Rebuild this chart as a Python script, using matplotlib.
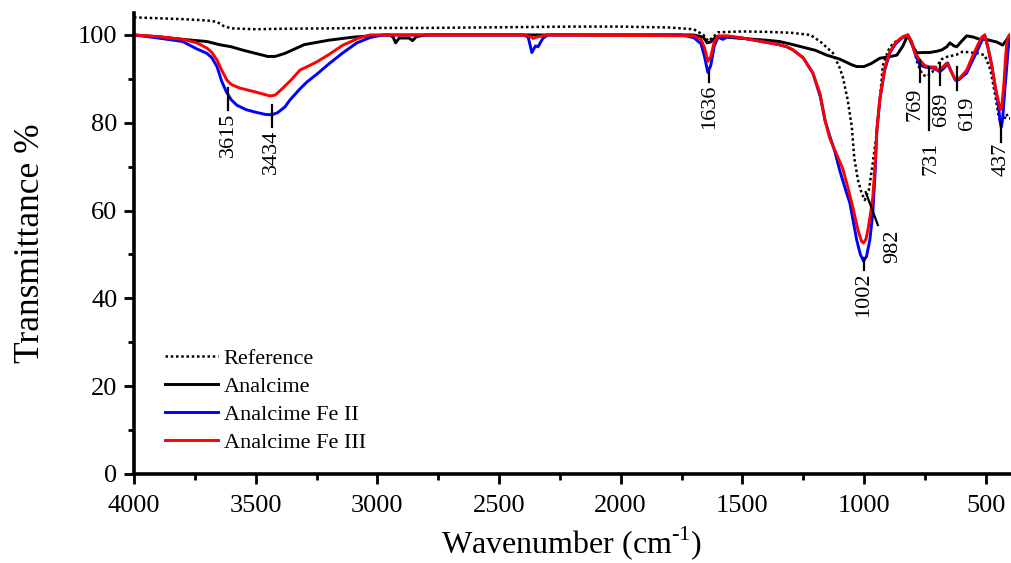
#!/usr/bin/env python
"""FTIR transmittance spectra of analcime and Fe-exchanged analcime."""

from __future__ import annotations

import matplotlib

matplotlib.use("Agg")
import matplotlib.pyplot as plt
from matplotlib.ticker import MultipleLocator

plt.rcParams["font.family"] = ["Liberation Serif", "DejaVu Serif"]
plt.rcParams["mathtext.fontset"] = "custom"
plt.rcParams["mathtext.rm"] = "Liberation Serif"

# Reference (dotted)
REF_WN = [4000, 3900, 3800, 3700, 3660, 3630, 3600, 3500, 3400, 3200, 3000, 2800,
          2600, 2400, 2200, 2000, 1800, 1700, 1660, 1640, 1620, 1600, 1500, 1400,
          1300, 1220, 1180, 1160, 1128, 1100, 1087, 1067, 1050, 1040, 1025, 1010,
          997, 980, 964, 947, 935, 923, 900, 882, 850, 820, 800, 780, 760, 742,
          720, 700, 680, 660, 620, 594, 560, 530, 504, 480, 460, 445, 437, 425,
          415, 405, 400]
REF_T = [104.0, 103.8, 103.6, 103.3, 103.0, 102.0, 101.5, 101.3, 101.4, 101.5, 101.6, 101.6,
         101.7, 101.8, 101.9, 101.9, 101.7, 101.3, 100.0, 98.6, 99.5, 100.6, 100.8, 100.7,
         100.5, 100.0, 98.5, 97.5, 95.9, 92.5, 90.4, 85.2, 79.0, 72.0, 67.0, 64.0,
         62.4, 64.7, 70.8, 78.0, 85.0, 93.0, 96.5, 98.0, 99.2, 99.8, 98.0, 93.5, 91.0, 90.5,
         91.5, 93.0, 94.5, 95.0, 95.5, 96.2, 96.0, 95.8, 95.4, 92.0, 86.0, 81.0, 80.0, 80.5,
         82.0, 81.0, 81.0]

# Analcime (black)
ANA_WN = [4000, 3900, 3800, 3700, 3650, 3600, 3550, 3500, 3450, 3420, 3380, 3340,
          3300, 3250, 3200, 3100, 3000, 2950, 2935, 2925, 2910, 2890, 2870, 2855,
          2840, 2800, 1700, 1660, 1645, 1630, 1610, 1590, 1500, 1400, 1346, 1300,
          1250, 1200, 1153, 1100, 1050, 1030, 1000, 970, 935, 900, 865, 840, 820,
          800, 783, 760, 730, 700, 680, 660, 647, 630, 619, 600, 578, 550, 524,
          500, 470, 455, 430, 415, 401]
ANA_T = [100.0, 99.6, 99.0, 98.5, 97.8, 97.3, 96.5, 95.8, 95.1, 95.1, 95.8, 96.8,
         97.8, 98.3, 98.8, 99.5, 99.9, 100.0, 99.5, 98.2, 99.3, 99.3, 99.3, 98.7,
         99.6, 100.0, 100.0, 99.5, 98.2, 98.4, 99.5, 99.6, 99.2, 98.8, 98.5, 97.9,
         97.2, 96.5, 95.4, 94.5, 93.2, 92.8, 92.8, 93.5, 94.7, 95.0, 95.4, 97.5, 100.0,
         97.5, 95.9, 96.0, 96.0, 96.3, 96.6, 97.3, 98.2, 97.5, 97.3, 98.5, 99.8, 99.5, 99.0,
         99.0, 98.6, 98.4, 97.7, 98.8, 100.0]

# Analcime Fe II (blue)
FE2_WN = [4000, 3900, 3800, 3741, 3700, 3680, 3659, 3640, 3620, 3600, 3577, 3540,
          3500, 3460, 3434, 3410, 3380, 3359, 3320, 3289, 3250, 3195, 3140, 3084,
          3030, 2977, 2400, 2380, 2365, 2350, 2340, 2320, 2300, 1750, 1700, 1670,
          1655, 1642, 1630, 1615, 1600, 1580, 1560, 1500, 1450, 1400, 1350, 1317,
          1292, 1250, 1210, 1180, 1160, 1141, 1120, 1100, 1080, 1058, 1030, 1015,
          1002, 990, 976, 964, 955, 947, 935, 915, 894, 870, 840, 820, 805, 791,
          771, 750, 730, 717, 700, 689, 670, 656, 640, 625, 610, 590, 578, 560,
          537, 515, 504, 490, 475, 460, 448, 440, 436, 430, 422, 413, 405, 401]
FE2_T = [100.0, 99.3, 98.5, 96.8, 95.8, 94.8, 92.8, 89.5, 87.0, 85.2, 84.0, 83.0,
         82.4, 81.9, 81.8, 82.3, 83.6, 85.2, 87.6, 89.3, 91.0, 93.6, 96.0, 98.2,
         99.4, 100.0, 100.0, 99.5, 96.0, 97.5, 97.3, 99.2, 100.0, 100.0, 99.4, 98.0,
         95.0, 91.5, 93.0, 97.5, 99.5, 99.0, 99.6, 99.3, 98.8, 98.3, 97.8, 97.3,
         96.6, 94.8, 91.3, 86.0, 80.5, 77.0, 73.5, 69.2, 65.5, 61.7, 53.3, 50.0,
         48.5, 49.5, 53.3, 59.4, 68.0, 78.4, 85.2, 92.0, 95.9, 98.0, 99.5, 100.0, 98.5, 95.9,
         93.2, 92.7, 92.5, 92.5, 92.0, 91.6, 92.5, 93.6, 91.5, 89.7, 89.8, 90.8, 91.3, 93.5,
         96.1, 98.8, 100.0, 97.0, 93.0, 88.0, 84.0, 80.0, 79.0, 81.0, 87.0, 93.0, 98.5, 99.5]

# Analcime Fe III (red)
FE3_WN = [4000, 3900, 3800, 3741, 3700, 3680, 3659, 3640, 3618, 3600, 3565, 3500,
          3441, 3420, 3388, 3350, 3318, 3280, 3248, 3200, 3141, 3080, 3030, 2400,
          2370, 2360, 2340, 2300, 1700, 1670, 1655, 1642, 1630, 1615, 1600, 1560,
          1500, 1450, 1400, 1350, 1317, 1292, 1250, 1210, 1180, 1160, 1141, 1110,
          1087, 1065, 1046, 1025, 1010, 1002, 992, 984, 974, 964, 955, 947, 935,
          915, 894, 870, 840, 820, 805, 791, 771, 750, 730, 710, 697, 680, 660,
          640, 625, 610, 590, 578, 555, 530, 516, 504, 490, 475, 460, 448, 440,
          434, 425, 418, 413, 405, 401]
FE3_T = [100.0, 99.6, 99.0, 98.2, 97.0, 96.0, 94.3, 92.0, 89.7, 88.7, 87.9, 87.0,
         86.1, 86.3, 87.9, 90.0, 92.0, 93.0, 93.9, 95.5, 97.7, 99.2, 100.0, 100.0,
         99.6, 99.2, 99.6, 100.0, 99.8, 99.0, 97.0, 94.0, 95.0, 98.5, 99.8, 99.8,
         99.3, 98.8, 98.3, 97.8, 97.3, 96.6, 94.8, 91.3, 86.5, 80.5, 76.5, 72.5,
         69.5, 65.0, 60.8, 55.6, 53.0, 52.6, 53.5, 55.6, 59.0, 63.0, 70.0, 78.4, 85.5,
         92.5, 96.2, 98.3, 99.6, 100.0, 98.5, 96.0, 94.3, 93.0, 92.7, 92.7, 92.0, 92.5, 93.6,
         91.5, 89.9, 90.0, 91.2, 92.0, 95.0, 98.0, 99.5, 100.0, 97.0, 93.0, 88.0, 85.0, 83.0,
         83.5, 89.0, 95.0, 98.5, 99.8, 100.0]

# peak marks: label, tick x, tick from/to (T), label x, label top (T)
PEAK_LABELS = ["3615", "3434", "1636", "1002", "769", "731", "689", "619", "437"]
PEAK_WN = [3615, 3434, 1636, 1002, 769, 731, 689, 619, 437]
PEAK_T0 = [87.9, 84.1, 91.6, 49.2, 94.3, 92.7, 93.6, 92.7, 80.2]
PEAK_T1 = [82.9, 79.0, 89.3, 46.5, 89.3, 78.4, 88.6, 87.5, 75.6]
PEAK_LABEL_WN = [3610, 3434, 1636, 1002, 790, 725, 682, 575, 437]
PEAK_LABEL_T = [82.3, 78.3, 88.8, 45.8, 87.9, 75.6, 86.8, 86.0, 75.4]


def main() -> None:
    fig = plt.figure(figsize=(10.12, 5.63), dpi=100)
    ax = fig.add_axes([134 / 1012, 89 / 563, 876 / 1012, 461 / 563])

    ax.plot(REF_WN, REF_T, color="black", linestyle=(0, (1, 1.1)), lw=1.8, label="Reference")
    ax.plot(ANA_WN, ANA_T, color="black", lw=2.1, label="Analcime")
    ax.plot(FE2_WN, FE2_T, color="#0000ff", lw=2.1, label="Analcime Fe II")
    ax.plot(FE3_WN, FE3_T, color="#ff0000", lw=2.1, label="Analcime Fe III")

    for lab, wn, t0, t1, lwn, lt in zip(PEAK_LABELS, PEAK_WN, PEAK_T0, PEAK_T1,
                                        PEAK_LABEL_WN, PEAK_LABEL_T):
        ax.plot([wn, wn], [t0, t1], color="black", lw=1.6)
        ax.text(lwn, lt, lab, rotation=90, ha="center", va="top", fontsize=16)

    # slanted mark for the reference minimum
    ax.plot([993, 943], [64.2, 56.7], color="black", lw=1.6)
    ax.text(882, 55.6, "982", rotation=90, ha="center", va="top", fontsize=16)

    ax.set_xlim(4000, 400)
    ax.set_ylim(0, 105)
    ax.xaxis.set_major_locator(MultipleLocator(500))
    ax.xaxis.set_minor_locator(MultipleLocator(250))
    ax.yaxis.set_minor_locator(MultipleLocator(10))
    ax.set_yticks([0, 20, 40, 60, 80, 100])

    for side in ["top", "right"]:
        ax.spines[side].set_visible(False)
    for side in ["left", "bottom"]:
        ax.spines[side].set_linewidth(2.6)
    ax.tick_params(which="major", direction="out", length=7, width=2, labelsize=19)
    ax.tick_params(which="minor", direction="out", length=4.5, width=2)
    ax.tick_params(axis="x", which="major", pad=8)
    ax.tick_params(axis="y", which="major", pad=5)

    ax.set_xlabel(r"Wavenumber (cm$^{\text{-1}}$)", fontsize=23, labelpad=5)
    ax.set_ylabel("Transmittance %", fontsize=25.5, labelpad=22)

    ax.legend(loc="upper left", bbox_to_anchor=(0.035, 0.272), frameon=False,
              fontsize=16, handlelength=2.4, handletextpad=0.25, labelspacing=0.33,
              borderpad=0, borderaxespad=0)

    fig.savefig("out.png", dpi=100)
    plt.close(fig)


if __name__ == "__main__":
    main()
